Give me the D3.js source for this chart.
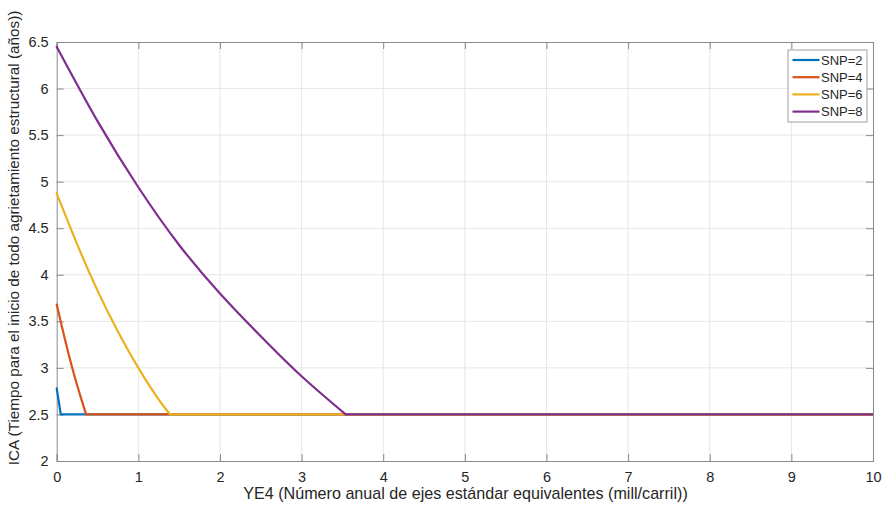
<!DOCTYPE html>
<html>
<head>
<meta charset="utf-8">
<script src="https://cdn.jsdelivr.net/npm/d3@7"></script>
<style>
  html, body { margin: 0; padding: 0; background: #fff; }
  svg { display: block; font-family: "Liberation Sans", Arial, Helvetica, sans-serif; }
</style>
</head>
<body>
<svg id="chart" width="883" height="506"></svg>
<script>
// ---- data ----
const seriesNames = ["SNP=2", "SNP=4", "SNP=6", "SNP=8"];
const snp2X = [0, 0.05, 10];
const snp2Y = [2.78, 2.5, 2.5];
const snp4X = [0, 0.1, 0.2, 0.3, 0.36, 10];
const snp4Y = [3.68, 3.31, 2.97, 2.67, 2.5, 2.5];
const snp6X = [0, 0.25, 0.5, 0.75, 1.0, 1.25, 1.39, 10];
const snp6Y = [4.875, 4.33, 3.83, 3.39, 3.0, 2.66, 2.5, 2.5];
const snp8X = [0, 0.5, 1.0, 1.5, 2.0, 2.5, 3.0, 3.54, 10];
const snp8Y = [6.45, 5.65, 4.94, 4.32, 3.80, 3.34, 2.91, 2.5, 2.5];
const xTicks = [0, 1, 2, 3, 4, 5, 6, 7, 8, 9, 10];
const yTicks = [2, 2.5, 3, 3.5, 4, 4.5, 5, 5.5, 6, 6.5];
const xLabel = "YE4 (Número anual de ejes estándar equivalentes (mill/carril))";
const yLabel = "ICA (Tiempo para el inicio de todo agrietamiento estructural (años))";
const colors = ["#0072BD", "#D95319", "#EDB120", "#7E2F8E"];

const seriesX = [snp2X, snp4X, snp6X, snp8X];
const seriesY = [snp2Y, snp4Y, snp6Y, snp8Y];

// ---- layout ----
const L = 56.7, R = 873, T = 42, B = 461;
const svg = d3.select("#chart");
const x = d3.scaleLinear().domain([0, 10]).range([L, R]);
const y = d3.scaleLinear().domain([2, 6.5]).range([B, T]);
const axisColor = "#8a8a8a";

// grid
const grid = svg.append("g");
grid.selectAll("line.gx").data(xTicks.slice(1, -1)).join("line")
  .attr("x1", d => x(d)).attr("x2", d => x(d)).attr("y1", T).attr("y2", B)
  .attr("stroke", "#e6e6e6").attr("stroke-width", 1);
grid.selectAll("line.gy").data(yTicks.slice(1, -1)).join("line")
  .attr("x1", L).attr("x2", R).attr("y1", d => y(d)).attr("y2", d => y(d))
  .attr("stroke", "#e6e6e6").attr("stroke-width", 1);

// axes with inward ticks
const tl = 7;
const xAxisB = d3.axisBottom(x).tickValues(xTicks).tickFormat(d3.format("d")).tickSize(-tl).tickPadding(tl + 4);
const xAxisT = d3.axisTop(x).tickValues(xTicks).tickFormat("").tickSize(-tl);
const yAxisL = d3.axisLeft(y).tickValues(yTicks).tickFormat(d => String(d)).tickSize(-tl).tickPadding(tl + 1);
const yAxisR = d3.axisRight(y).tickValues(yTicks).tickFormat("").tickSize(-tl);

function style(g) {
  g.selectAll("path.domain").attr("stroke", axisColor).attr("stroke-width", 1);
  g.selectAll(".tick line").attr("stroke", axisColor).attr("stroke-width", 1);
  g.selectAll(".tick text").attr("fill", "#262626").attr("font-size", 14.5)
    .attr("font-family", "'Liberation Sans', Arial, sans-serif");
}
svg.append("g").attr("transform", `translate(0,${B})`).call(xAxisB).call(style);
svg.append("g").attr("transform", `translate(0,${T})`).call(xAxisT).call(style);
svg.append("g").attr("transform", `translate(${L},0)`).call(yAxisL).call(style);
svg.append("g").attr("transform", `translate(${R},0)`).call(yAxisR).call(style);

// lines: smooth decreasing part then straight plateau
const curveGen = d3.line().x(d => x(d[0])).y(d => y(d[1])).curve(d3.curveNatural);
const lineGen = d3.line().x(d => x(d[0])).y(d => y(d[1]));
const plot = svg.append("g");
seriesX.forEach((xs, i) => {
  const pts = xs.map((v, j) => [v, seriesY[i][j]]);
  const head = pts.slice(0, -1);
  const tail = pts.slice(-2);
  plot.append("path").attr("d", curveGen(head))
    .attr("fill", "none").attr("stroke", colors[i]).attr("stroke-width", 2.2)
    .attr("stroke-linejoin", "round").attr("stroke-linecap", "round");
  plot.append("path").attr("d", lineGen(tail))
    .attr("fill", "none").attr("stroke", colors[i]).attr("stroke-width", 2.2)
    .attr("stroke-linejoin", "round");
});

// axis labels, sized to match the reference lengths
function fit(sel, target) {
  let fs = 15;
  sel.attr("font-size", fs);
  const w = sel.node().getComputedTextLength();
  if (w > 0) sel.attr("font-size", fs * target / w);
}
const xl = svg.append("text").attr("x", 465.5).attr("y", 499)
  .attr("text-anchor", "middle").attr("fill", "#262626").text(xLabel);
fit(xl, 445);
const yl = svg.append("text").attr("transform", `translate(19,238) rotate(-90)`)
  .attr("text-anchor", "middle").attr("fill", "#262626").text(yLabel);
fit(yl, 455);

// legend
const lg = svg.append("g");
lg.append("rect").attr("x", 788).attr("y", 50).attr("width", 79).attr("height", 72)
  .attr("fill", "#fff").attr("stroke", "#a0a0a0").attr("stroke-width", 1);
seriesNames.forEach((name, i) => {
  const yy = 60 + i * 17.2;
  lg.append("line").attr("x1", 792.5).attr("x2", 819.5).attr("y1", yy).attr("y2", yy)
    .attr("stroke", colors[i]).attr("stroke-width", 2.2);
  lg.append("text").attr("x", 821).attr("y", yy).attr("dy", "0.35em")
    .attr("font-size", 13).attr("fill", "#262626").text(name);
});
</script>
</body>
</html>
